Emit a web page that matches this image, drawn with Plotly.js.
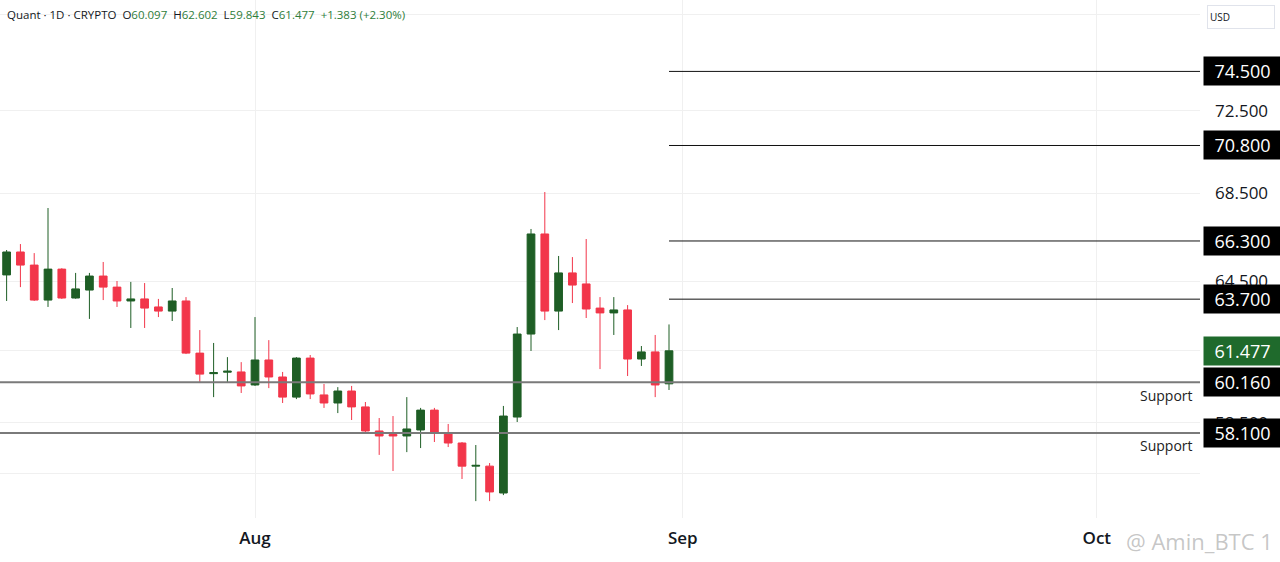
<!DOCTYPE html>
<html><head><meta charset="utf-8">
<script src="https://cdn.plot.ly/plotly-3.0.1.min.js"></script>
<style>html,body{margin:0;padding:0;background:#fff}#chart{width:1280px;height:562px}</style>
</head><body><div id="chart"></div>
<script>
const dates = ['2024-07-14','2024-07-15','2024-07-16','2024-07-17','2024-07-18','2024-07-19','2024-07-20',
'2024-07-21','2024-07-22','2024-07-23','2024-07-24','2024-07-25','2024-07-26','2024-07-27','2024-07-28',
'2024-07-29','2024-07-30','2024-07-31','2024-08-01','2024-08-02','2024-08-03','2024-08-04','2024-08-05',
'2024-08-06','2024-08-07','2024-08-08','2024-08-09','2024-08-10','2024-08-11','2024-08-12','2024-08-13',
'2024-08-14','2024-08-15','2024-08-16','2024-08-17','2024-08-18','2024-08-19','2024-08-20','2024-08-21',
'2024-08-22','2024-08-23','2024-08-24','2024-08-25','2024-08-26','2024-08-27','2024-08-28','2024-08-29',
'2024-08-30','2024-08-31'];
const openVals = [64.77,65.80,65.21,63.66,65.03,63.75,64.10,64.72,64.23,63.62,63.71,63.36,63.18,63.62,61.38,
60.52,60.58,60.59,60.05,61.09,60.38,59.55,61.17,59.64,59.31,59.80,59.15,58.18,58.04,57.98,58.22,59.02,58.10,
57.70,56.79,56.79,55.75,58.74,62.19,66.62,63.18,64.86,64.37,63.31,63.10,63.23,61.13,61.43,60.097];
const highVals = [65.89,66.16,65.75,67.82,65.07,64.86,64.86,65.35,64.50,64.46,64.41,63.71,64.19,63.79,62.36,
61.81,61.21,61.00,62.92,61.93,60.59,61.21,61.30,60.09,59.96,60.01,59.35,58.70,58.78,59.55,59.11,59.11,58.46,
57.74,57.62,56.91,59.19,62.49,66.85,68.57,65.62,65.57,66.39,63.79,63.79,63.44,61.68,62.15,62.602];
const lowVals = [63.62,64.23,63.62,63.36,63.71,63.72,62.84,63.66,63.36,62.45,62.45,62.92,62.75,61.34,60.13,
59.55,60.13,59.72,60.01,59.92,59.31,59.47,59.47,59.11,58.90,58.62,58.10,57.23,56.60,57.34,57.50,57.74,57.54,
56.29,55.44,55.44,55.67,58.54,61.47,62.79,62.36,63.53,62.88,60.71,62.15,60.42,60.84,59.55,59.843];
const closeVals = [65.80,65.21,63.66,65.03,63.75,64.15,64.72,64.23,63.62,63.71,63.31,63.18,63.62,61.38,60.50,
60.56,60.62,60.01,61.09,60.38,59.55,61.17,59.68,59.31,59.80,59.15,58.18,57.98,57.98,58.26,59.02,58.10,57.70,
56.79,56.82,55.79,58.78,62.19,66.62,63.18,64.86,64.32,63.27,63.10,63.23,61.13,61.43,60.05,61.477];

const resistanceLevels = [74.5, 70.8, 66.3, 63.7];
const supportLevels = [60.16, 58.1];
const supportLabels = ['Support', 'Support'];
const lastClose = 61.477;
const gridValues = [56.5, 58.5, 61.5, 64.5, 68.5, 72.5, 77.5];
const gridLabels = ['', '58.500', '', '64.500', '68.500', '72.500', ''];
const monthTicks = ['2024-08-01', '2024-09-01', '2024-10-01'];
const monthLabels = ['Aug', 'Sep', 'Oct'];
const levelStart = '2024-08-31';
const farLeft = '2024-07-01';
const farRight = '2024-10-31';

const GREEN = '#1e5e25', RED = '#f2364a', INK = '#131722', TXTGREEN = '#2e7d3a';

const traces = [];
resistanceLevels.forEach(v => traces.push({
  type: 'scatter', mode: 'lines', x: [levelStart, farRight], y: [v, v],
  line: {color: '#111', width: 1}, hoverinfo: 'skip', showlegend: false
}));
supportLevels.forEach(v => traces.push({
  type: 'scatter', mode: 'lines', x: [farLeft, farRight], y: [v, v],
  line: {color: '#7a7a7a', width: 2}, hoverinfo: 'skip', showlegend: false
}));
traces.push({
  type: 'candlestick', x: dates, open: openVals, high: highVals, low: lowVals, close: closeVals,
  increasing: {line: {color: GREEN, width: 1}, fillcolor: GREEN},
  decreasing: {line: {color: RED, width: 1}, fillcolor: RED},
  whiskerwidth: 0, showlegend: false
});

const annotations = [];
const boxFont = {family: 'Open Sans, sans-serif', size: 18, color: '#fff'};
function priceBox(v, bg) {
  annotations.push({
    xref: 'paper', yref: 'y', x: 1, y: Math.log10(v), xanchor: 'left', yanchor: 'middle', xshift: 3,
    text: v.toFixed(3), showarrow: false, font: boxFont, bgcolor: bg,
    width: 73, height: 24, borderpad: 2, align: 'center'
  });
}
resistanceLevels.forEach(v => priceBox(v, '#000'));
supportLevels.forEach(v => priceBox(v, '#000'));
priceBox(lastClose, '#1f6a2c');

supportLevels.forEach((v, i) => annotations.push({
  xref: 'paper', yref: 'y', x: 0.9955, y: Math.log10(v), xanchor: 'right', yanchor: 'middle', yshift: -13,
  text: supportLabels[i], showarrow: false,
  font: {family: 'Open Sans, sans-serif', size: 14, color: '#222'}
}));

const g = '<span style="color:' + TXTGREEN + '">';
annotations.push({
  xref: 'paper', yref: 'paper', x: 0, y: 1, xanchor: 'left', yanchor: 'top', xshift: 5, yshift: -5,
  showarrow: false, align: 'left',
  font: {family: 'Open Sans, sans-serif', size: 11.5, color: INK},
  text: 'Quant · 1D · CRYPTO  O' + g + openVals[48].toFixed(3) + '</span>  H' + g + highVals[48].toFixed(3) +
        '</span>  L' + g + lowVals[48].toFixed(3) + '</span>  C' + g + closeVals[48].toFixed(3) +
        '</span>  ' + g + '+1.383 (+2.30%)</span>'
});
annotations.push({
  xref: 'paper', yref: 'paper', x: 1, y: 1, xanchor: 'left', yanchor: 'top', xshift: 7, yshift: -5,
  showarrow: false, text: 'USD', font: {family: 'Open Sans, sans-serif', size: 10, color: INK},
  bgcolor: '#fff', bordercolor: '#e0e3eb', borderwidth: 1, width: 62, height: 18, align: 'left', borderpad: 2
});
annotations.push({
  xref: 'paper', yref: 'paper', x: 1, y: 0, xanchor: 'right', yanchor: 'top', xshift: 75, yshift: -6,
  showarrow: false, text: '@ Amin_BTC 1',
  font: {family: 'Open Sans, sans-serif', size: 22, color: 'rgba(150,150,150,0.55)'}
});

const layout = {
  width: 1280, height: 562,
  margin: {l: 0, r: 80, t: 0, b: 44},
  paper_bgcolor: '#fff', plot_bgcolor: '#fff',
  showlegend: false,
  boxgap: 0.2,
  xaxis: {
    type: 'date', range: ['2024-07-13 12:30', '2024-10-08 11:30'],
    rangeslider: {visible: false},
    tickvals: monthTicks, ticktext: monthLabels, ticks: '',
    showgrid: true, gridcolor: '#f0f0f0', gridwidth: 1,
    zeroline: false, showline: false, ticklabelstandoff: 8,
    tickfont: {family: 'Open Sans, sans-serif', size: 17, color: INK, weight: 600}
  },
  yaxis: {
    type: 'log', side: 'right',
    range: [Math.log10(54.8), Math.log10(78.25)],
    tickvals: gridValues, ticktext: gridLabels, ticks: '',
    showgrid: true, gridcolor: '#f0f0f0', gridwidth: 1,
    zeroline: false, showline: false, ticklabelstandoff: 14,
    tickfont: {family: 'Open Sans, sans-serif', size: 17, color: INK}
  },
  annotations: annotations
};
Plotly.newPlot('chart', traces, layout, {staticPlot: true});
</script></body></html>
